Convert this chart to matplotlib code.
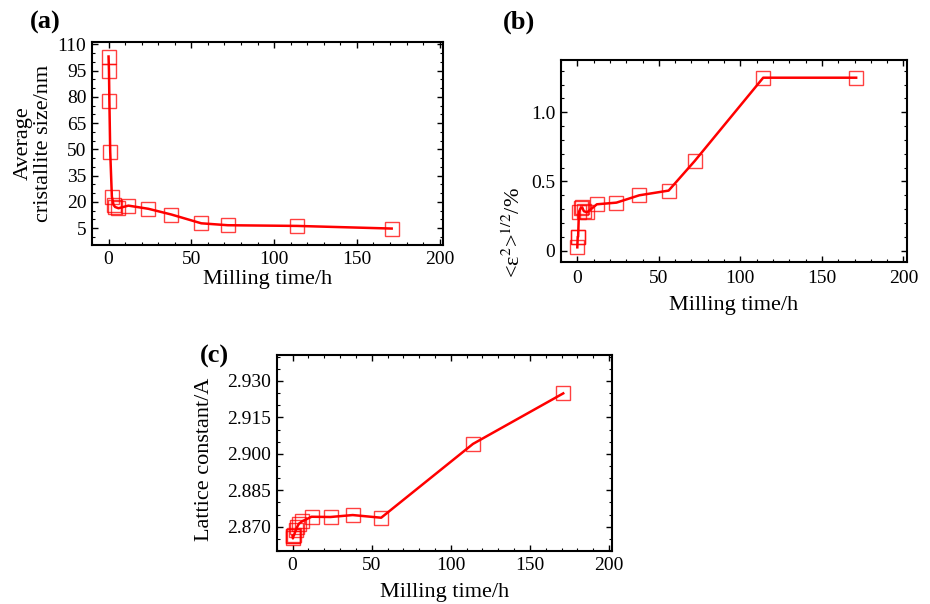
import matplotlib
matplotlib.use("Agg")
import matplotlib.pyplot as plt
from matplotlib.ticker import MultipleLocator, FixedLocator, FixedFormatter

plt.rcParams['font.family'] = ['Liberation Serif', 'DejaVu Serif']
plt.rcParams['mathtext.fontset'] = 'stix'

# milling times (h)
time_ab = [0, 0.25, 0.5, 1, 2, 3, 4, 6, 12, 24, 38, 56, 72, 114, 171]
time_c = [0, 0.25, 0.5, 1, 2, 3, 4, 6, 12, 24, 38, 56, 114, 171]

# (a) average crystallite size, nm
size_nm = [103, 95, 77.6, 48.6, 23, 18.2, 17, 16.3, 17.8, 16, 12.7, 7.7, 6.6, 6.2, 4.7]
# (b) microstrain <e^2>^1/2, %
strain = [0.024, 0.10, 0.10, 0.28, 0.306, 0.313, 0.285, 0.277, 0.335, 0.347, 0.40, 0.434, 0.648, 1.25, 1.25]
# (c) lattice constant, A
lattice = [2.8663, 2.8652, 2.8660, 2.8666, 2.8685, 2.8700, 2.8712, 2.8722, 2.8741, 2.8740,
           2.8748, 2.8737, 2.9041, 2.9249]

fig = plt.figure(figsize=(9.3, 6.04), dpi=100)
W, H = 930, 604


def add_ax(left, top, right, bottom):
    return fig.add_axes([left / W, 1 - bottom / H, (right - left) / W, (bottom - top) / H])


def style(ax):
    for s in ax.spines.values():
        s.set_linewidth(1.5)
    ax.tick_params(which='both', direction='in', top=True, right=True, labelsize=14)
    ax.tick_params(which='major', length=4, width=1, pad=4)
    ax.tick_params(which='minor', length=2.5, width=0.8)
    ax.xaxis.set_major_locator(MultipleLocator(50))
    ax.xaxis.set_minor_locator(MultipleLocator(10))
    ax.set_xlim(-10, 202)


def draw(ax, x, y):
    ax.plot(x, y, color='red', lw=1.8, zorder=3)
    ax.plot(x, y, 's', ms=10, mfc='none', mec='red', mew=1.0, alpha=0.75, zorder=2)


# (a)
ax1 = add_ax(92, 42, 443, 245)
style(ax1)
draw(ax1, time_ab, size_nm)
ax1.set_ylim(-4.7, 111.3)
ax1.yaxis.set_major_locator(FixedLocator([5, 20, 35, 50, 65, 80, 95, 110]))
ax1.yaxis.set_minor_locator(MultipleLocator(5))
ax1.set_xlabel('Milling time/h', fontsize=16)
ax1.xaxis.set_label_coords(0.5, -0.172)
ax1.xaxis.label.set_va('center')
ax1.set_ylabel('Average\ncristallite size/nm', fontsize=16, linespacing=1.1)
ax1.yaxis.set_label_coords((33 - 92) / 351, 0.5)
ax1.yaxis.label.set_va('center')
fig.text(30 / W, 1 - 22 / H, '(a)', fontsize=19, fontweight='bold', va='center', ha='left')

# (b)
ax2 = add_ax(561, 60, 906.7, 261.7)
style(ax2)
draw(ax2, time_ab, strain)
ax2.set_ylim(-0.08, 1.378)
ax2.yaxis.set_major_locator(FixedLocator([0, 0.5, 1.0]))
ax2.yaxis.set_major_formatter(FixedFormatter(['0', '0.5', '1.0']))
ax2.yaxis.set_minor_locator(MultipleLocator(0.1))
ax2.tick_params(axis='x', which='major', pad=6)
ax2.set_xlabel('Milling time/h', fontsize=16)
ax2.xaxis.set_label_coords(0.5, (261.7 - 305) / 201.7)
ax2.xaxis.label.set_va('center')
fig.text(514 / W, 1 - 233 / H, '<ε$^{2}$>$^{1/2}$/%', fontsize=16,
         rotation=90, va='center', ha='center')
fig.text(503 / W, 1 - 22 / H, '(b)', fontsize=19, fontweight='bold', va='center', ha='left')

# (c)
ax3 = add_ax(276.7, 355, 612.3, 551)
style(ax3)
draw(ax3, time_c, lattice)
ax3.set_ylim(2.86, 2.9407)
ax3.yaxis.set_major_locator(FixedLocator([2.870, 2.885, 2.900, 2.915, 2.930]))
ax3.yaxis.set_major_formatter(FixedFormatter(['2.870', '2.885', '2.900', '2.915', '2.930']))
ax3.yaxis.set_minor_locator(MultipleLocator(0.005))
ax3.set_xlabel('Milling time/h', fontsize=16)
ax3.xaxis.set_label_coords(0.5, (551 - 593) / 196)
ax3.xaxis.label.set_va('center')
ax3.set_ylabel('Lattice constant/A', fontsize=16)
ax3.yaxis.set_label_coords((204.5 - 276.7) / 335.6, 0.47)
ax3.yaxis.label.set_va('center')
fig.text(200 / W, 1 - 356 / H, '(c)', fontsize=19, fontweight='bold', va='center', ha='left')

fig.savefig('out.png', dpi=100)
